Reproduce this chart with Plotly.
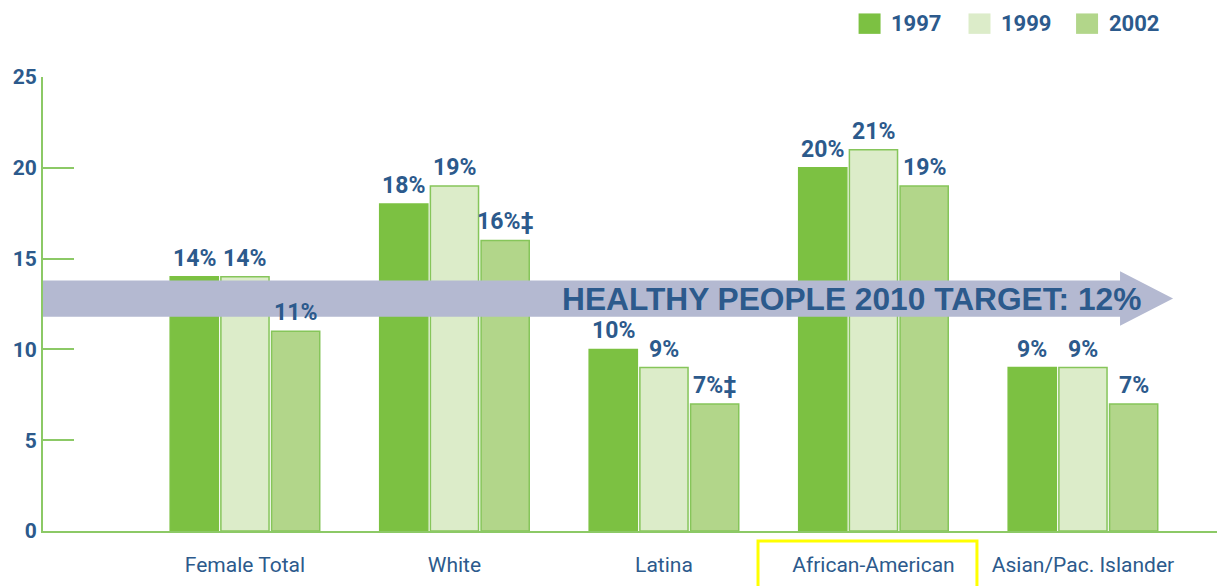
import plotly.graph_objects as go

categories = ["Female Total", "White", "Latina", "African-American", "Asian/Pac. Islander"]
years = ["1997", "1999", "2002"]
values_1997 = [14, 18, 10, 20, 9]
values_1999 = [14, 19, 9, 21, 9]
values_2002 = [11, 16, 7, 19, 7]
marks_2002 = ["", "‡", "‡", "", ""]
target_value = 12
target_label = "HEALTHY PEOPLE 2010 TARGET: 12%"
y_ticks = [0, 5, 10, 15, 20, 25]

series = [values_1997, values_1999, values_2002]
marks = [[""] * 5, [""] * 5, marks_2002]
fills = ["#7cc142", "#dcecc9", "#b2d68a"]
lines = ["#7cc142", "#86c55a", "#86c55a"]

BLUE = "#2c5a8c"
GREEN = "#8cc966"
NARROW = "Roboto, Liberation Sans, sans-serif"

bargap = 0.274
bargroupgap = 0.05
xs = list(range(len(categories)))

fig = go.Figure()
for k, (yr, vals) in enumerate(zip(years, series)):
    fig.add_trace(go.Bar(
        x=xs, y=vals, name=yr,
        marker=dict(color=fills[k], line=dict(color=lines[k], width=1.5)),
        showlegend=False,
    ))

annotations = []
shapes = []

# target arrow (drawn above bars)
y_c = target_value + 0.8
half = 1.0
head_half = 1.5
x_start = -0.964
x_head = 4.177
x_tip = 4.43
path = (f"M {x_start},{y_c - half} L {x_head},{y_c - half} L {x_head},{y_c - head_half} "
        f"L {x_tip},{y_c} L {x_head},{y_c + head_half} L {x_head},{y_c + half} "
        f"L {x_start},{y_c + half} Z")
shapes.append(dict(type="path", path=path, xref="x", yref="y",
                   fillcolor="#b4b9d1", line=dict(width=0), layer="above"))
annotations.append(dict(x=2.893, y=y_c, xref="x", yref="y", text=target_label,
                        showarrow=False, xanchor="center", yanchor="middle",
                        font=dict(family="Liberation Sans, Arial, sans-serif",
                                  size=31.7, color=BLUE, weight="bold")))

# bar value labels as annotations (above the arrow)
w = 1 - bargap
for k, vals in enumerate(series):
    for i, v in enumerate(vals):
        annotations.append(dict(
            x=i + (k - 1) * w / 3, y=v, xref="x", yref="y",
            text=f"{v}%{marks[k][i]}", showarrow=False,
            xanchor="center", yanchor="bottom", yshift=3,
            font=dict(family=NARROW, size=23, color=BLUE, weight="bold")))

# legend (manual)
leg_x = [0.690, 0.783, 0.874]
for k, yr in enumerate(years):
    shapes.append(dict(type="rect", xref="paper", yref="paper",
                       x0=leg_x[k], x1=leg_x[k] + 0.0186,
                       y0=1.095, y1=1.14, fillcolor=fills[k],
                       line=dict(width=0)))
    annotations.append(dict(x=leg_x[k] + 0.026, y=1.117, xref="paper", yref="paper",
                            text=yr, showarrow=False, xanchor="left", yanchor="middle",
                            font=dict(family=NARROW, size=22, color=BLUE, weight="bold")))

# highlight box around African-American label
shapes.append(dict(type="rect", xref="x", yref="paper",
                   x0=3 - 0.551, x1=3 + 0.494, y0=-0.022, y1=-0.2,
                   line=dict(color="#ffff00", width=3), fillcolor="rgba(0,0,0,0)"))

fig.update_layout(
    width=1217, height=578,
    margin=dict(l=35, r=0, t=69, b=55),
    paper_bgcolor="white", plot_bgcolor="white",
    barmode="group", bargap=bargap, bargroupgap=bargroupgap,
    shapes=shapes, annotations=annotations,
    xaxis=dict(range=[-0.964, 4.678], tickvals=xs, ticktext=categories,
               showgrid=False, zeroline=False, showline=True, linecolor=GREEN,
               linewidth=2, ticks="", fixedrange=True, tickangle=0,
               automargin=False, ticklabelstandoff=14,
               tickfont=dict(family=NARROW, size=21, color=BLUE)),
    yaxis=dict(range=[0, 25], tickvals=y_ticks, showgrid=False, zeroline=False,
               showline=True, linecolor=GREEN, linewidth=2, automargin=False,
               ticks="inside", ticklen=31, tickcolor=GREEN, tickwidth=2,
               tickfont=dict(family=NARROW, size=21, color=BLUE, weight="bold")),
)

fig.write_html("out.html")
